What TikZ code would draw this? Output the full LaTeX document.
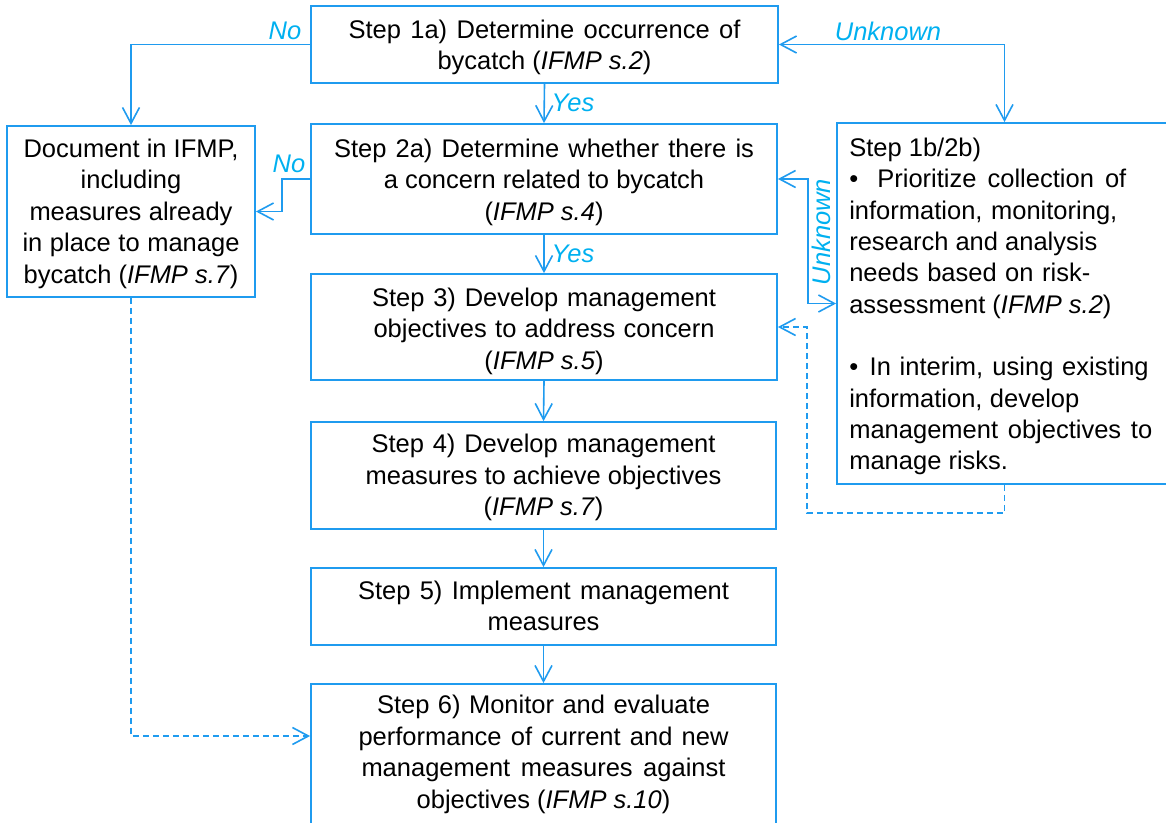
\documentclass[tikz,border=0pt]{standalone}
\usepackage{fontspec}
\setmainfont{Liberation Sans}
\usetikzlibrary{arrows.meta}
\definecolor{lineblue}{HTML}{1F9BEF}
\definecolor{labblue}{HTML}{00B0F0}
\newcommand{\jl}[2]{\makebox[#1pt][s]{#2}}
\begin{document}
\begin{tikzpicture}[x=1pt,y=-1pt,
  box/.style={draw=lineblue,line width=1.8pt,inner sep=0pt},
  txt/.style={inner sep=0pt,align=center,font=\fontsize{25.5}{31.5}\selectfont},
  arr/.style={draw=lineblue,line width=1.6pt,-{Straight Barb[length=16pt,width=17pt,line width=1.6pt]}},
  arrtwo/.style={draw=lineblue,line width=1.6pt,{Straight Barb[length=16pt,width=17pt,line width=1.6pt]}-{Straight Barb[length=16pt,width=17pt,line width=1.6pt]}},
  darr/.style={arr,dash pattern=on 6pt off 4pt},
  lab/.style={text=labblue,font=\fontsize{25.5}{31}\selectfont\itshape,inner sep=0pt}]
\useasboundingbox (0,0) rectangle (1166,822);
% boxes
\node[box,minimum width=467pt,minimum height=77pt] (s1a) at (544.5,44.5) {};
\node[box,minimum width=466pt,minimum height=110pt] (s2a) at (544,179) {};
\node[box,minimum width=248pt,minimum height=171pt] (doc) at (131,211.5) {};
\node[box,minimum width=466pt,minimum height=106pt] (s3) at (544,327) {};
\node[box,minimum width=465pt,minimum height=107pt] (s4) at (543.5,475.5) {};
\node[box,minimum width=465pt,minimum height=77pt] (s5) at (543.5,606.5) {};
\node[box,minimum width=465pt,minimum height=142pt] (s6) at (543.5,755) {};
\node[box,minimum width=335pt,minimum height=361pt] (s1b) at (1004.5,303.5) {};
% texts
\node[txt] (t1a) at ([yshift=-3pt]s1a.center)
  {\jl{392}{Step 1a) Determine occurrence of}\\ bycatch (\textit{IFMP s.2})};
\node[txt] (t2a) at ([yshift=-3pt]s2a.center)
  {\jl{420}{Step 2a) Determine whether there is}\\ a concern related to bycatch\\ (\textit{IFMP s.4})};
\node[txt] (tdoc) at ([yshift=-2pt]doc.center)
  {Document in IFMP,\\ including\\ \jl{203}{measures already}\\ \jl{217}{in place to manage}\\ bycatch (\textit{IFMP s.7})};
\node[txt] (t3) at ([yshift=-4pt]s3.center)
  {\jl{344}{Step 3) Develop management}\\ \jl{341}{objectives to address concern}\\ (\textit{IFMP s.5})};
\node[txt] (t4) at ([yshift=-2pt]s4.center)
  {\jl{344}{Step 4) Develop management}\\ measures to achieve objectives\\ (\textit{IFMP s.7})};
\node[txt] (t5) at ([yshift=0.5pt]s5.center)
  {\jl{371}{Step 5) Implement management}\\ measures};
\node[txt] (t6) at ([yshift=0.5pt]s6.center)
  {\jl{333}{Step 6) Monitor and evaluate}\\ \jl{370}{performance of current and new}\\ \jl{364}{management measures against}\\ objectives (\textit{IFMP s.10})};
\node[txt,align=left,anchor=west,font=\fontsize{25.5}{31.3}\selectfont] (t1b) at ([xshift=13pt,yshift=-3pt]s1b.west)
  {Step 1b/2b)\\
   •\hspace{0.75em}\jl{249}{Prioritize collection of}\\
   \jl{268}{information, monitoring,}\\
   \jl{248}{research and analysis}\\
   \jl{241}{needs based on risk-}\\
   assessment (\textit{IFMP s.2})\\[31.3pt]
   •\hspace{0.45em}\jl{279}{In interim, using existing}\\
   \jl{230}{information, develop}\\
   \jl{303}{management objectives to}\\
   manage risks.};
% connectors
\draw[arr] (s1a.west) -| (doc.north);
\node[lab] (lno1) at (285,31) {No};
\draw[arr] (s1a.south) -- (s2a.north);
\node[lab] (lyes1) at (573,103) {Yes};
\draw[arr] (s2a.west) -- ++(-28,0) |- (doc.east);
\node[lab] (lno2) at (289,164) {No};
\draw[arr] (s2a.south) -- (s3.north);
\node[lab] (lyes2) at (573,254) {Yes};
\draw[arr] (s3.south) -- (s4.north);
\draw[arr] (s4.south) -- (s5.north);
\draw[arr] (s5.south) -- (s6.north);
\draw[arrtwo] (s1a.east) -| (s1b.north);
\node[lab] (lunk1) at (888,31) {Unknown};
\draw[arrtwo] (s2a.east) -- ++(30,0) |- (s1b.west);
\node[lab,rotate=90] (lunk2) at (821,232) {Unknown};
\coordinate (d1) at (807,513);
\draw[darr] (s1b.south) |- (d1) |- (s3.east);
\draw[darr] (doc.south) |- ([yshift=19pt]s6.west);
\end{tikzpicture}
\end{document}
